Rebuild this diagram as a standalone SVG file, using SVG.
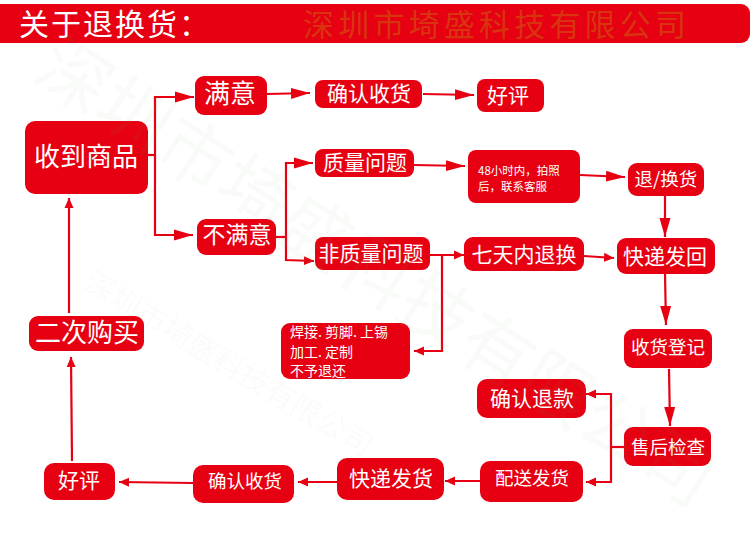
<svg xmlns="http://www.w3.org/2000/svg" width="750" height="550" viewBox="0 0 750 550">
<style>
text{font-family:"Noto Sans CJK SC","Noto Sans",sans-serif;fill:#fff;text-anchor:middle}
.b{fill:#e60012}
.c{fill:none;stroke:#e60012;stroke-width:2.2}
.big{marker-end:url(#ab)}
.sm{marker-end:url(#as)}
.wm{fill:#70b060;fill-opacity:.05;text-anchor:start}
</style>
<defs>
<marker id="ab" markerUnits="userSpaceOnUse" markerWidth="19" markerHeight="13" refX="19" refY="6.5" orient="auto"><path d="M0 1 19 6.500 0 12z" fill="#e60012"/></marker>
<marker id="as" markerUnits="userSpaceOnUse" markerWidth="10" markerHeight="11" refX="10" refY="5.500" orient="auto"><path d="M0 1 10 5.500 0 10z" fill="#e60012"/></marker>
</defs>
<rect width="750" height="550" fill="#fff"/>
<g id="header">
<rect class="b" x="-10" y="4" width="760" height="39" rx="9"/>
<text x="19" y="35" font-size="30" letter-spacing="2" style="text-anchor:start">关于退换货：</text>
<text x="303" y="36" font-size="31" letter-spacing="4.200" style="text-anchor:start;fill:#d9340f">深圳市埼盛科技有限公司</text>
</g>
<g id="connectors">
<path class="c" d="M148 155H155"/>
<path class="c big" d="M155 155V97H194"/>
<path class="c big" d="M155 155V235H193"/>
<path class="c big" d="M267 94 310 93"/>
<path class="c big" d="M423 94 474 95"/>
<path class="c" d="M276 237H286"/>
<path class="c big" d="M286 237V163H313"/>
<path class="c sm" d="M286 237V260L314 261"/>
<path class="c big" d="M414 165 465 166"/>
<path class="c big" d="M580 175 625 177"/>
<path class="c sm" d="M430 255H464"/>
<path class="c sm" d="M584 256 614 258"/>
<path class="c sm" d="M442 255V351H414"/>
<path class="c big" d="M665 196V237"/>
<path class="c big" d="M665 274 666 325"/>
<path class="c big" d="M669 369 670 426"/>
<path class="c" d="M624 447H611"/>
<path class="c sm" d="M611 447V394H586"/>
<path class="c sm" d="M611 447V482H586"/>
<path class="c sm" d="M480 481H445"/>
<path class="c sm" d="M337 482H298"/>
<path class="c sm" d="M193 483 119 482"/>
<path class="c sm" d="M72 461 71 357"/>
<path class="c sm" d="M69 313V198"/>
</g>
<g id="n1"><rect class="b" x="25" y="121" width="123" height="73" rx="10"/><text x="86" y="166" font-size="26">收到商品</text></g>
<g id="n2"><rect class="b" x="195" y="76" width="72" height="39" rx="9"/><text x="230" y="103" font-size="26">满意</text></g>
<g id="n3"><rect class="b" x="315" y="80" width="107" height="28" rx="8"/><text x="369" y="101" font-size="21">确认收货</text></g>
<g id="n4"><rect class="b" x="477" y="79" width="67" height="33" rx="8"/><text x="508" y="103" font-size="21">好评</text></g>
<g id="n5"><rect class="b" x="315" y="149" width="99" height="28" rx="8"/><text x="365" y="170" font-size="21">质量问题</text></g>
<g id="n6"><rect class="b" x="468" y="150" width="112" height="53" rx="8"/><text x="478" y="175" font-size="11.500" style="text-anchor:start">48小时内，拍照</text><text x="478" y="191" font-size="11.500" style="text-anchor:start">后，联系客服</text></g>
<g id="n7"><rect class="b" x="628" y="163" width="76" height="33" rx="9"/><text x="666" y="186" font-size="18.500">退/换货</text></g>
<g id="n8"><rect class="b" x="197" y="219" width="79" height="36" rx="9"/><text x="237" y="243" font-size="23">不满意</text></g>
<g id="n9"><rect class="b" x="315" y="237" width="115" height="33" rx="8"/><text x="371" y="261" font-size="21">非质量问题</text></g>
<g id="n10"><rect class="b" x="464" y="237" width="120" height="34" rx="9"/><text x="524" y="262" font-size="21">七天内退换</text></g>
<g id="n11"><rect class="b" x="617" y="238" width="98" height="36" rx="9"/><text x="665" y="264" font-size="21">快递发回</text></g>
<g id="n12"><rect class="b" x="281" y="323" width="129" height="56" rx="9"/><text x="290" y="337" font-size="14" style="text-anchor:start">焊接. 剪脚. 上锡</text><text x="290" y="357" font-size="14" style="text-anchor:start">加工. 定制</text><text x="290" y="376" font-size="14" style="text-anchor:start">不予退还</text></g>
<g id="n13"><rect class="b" x="624" y="329" width="88" height="39" rx="9"/><text x="668" y="354" font-size="18.500">收货登记</text></g>
<g id="n14"><rect class="b" x="477" y="379" width="109" height="39" rx="10"/><text x="532" y="406" font-size="21">确认退款</text></g>
<g id="n15"><rect class="b" x="624" y="427" width="87" height="39" rx="9"/><text x="668" y="454" font-size="18.500">售后检查</text></g>
<g id="n16"><rect class="b" x="480" y="461" width="103" height="41" rx="10"/><text x="532" y="485" font-size="18.500">配送发货</text></g>
<g id="n17"><rect class="b" x="337" y="458" width="107" height="42" rx="10"/><text x="391" y="486" font-size="21">快递发货</text></g>
<g id="n18"><rect class="b" x="193" y="465" width="101" height="38" rx="10"/><text x="245" y="488" font-size="18.500">确认收货</text></g>
<g id="n19"><rect class="b" x="44" y="463" width="71" height="37" rx="10"/><text x="79" y="488" font-size="21">好评</text></g>
<g id="n20"><rect class="b" x="29" y="316" width="115" height="35" rx="9"/><text x="87" y="342" font-size="26">二次购买</text></g>
<g id="watermark">
<text class="wm" font-size="72" transform="translate(30 78) rotate(33)">深圳市埼盛科技有限公司</text>
<text class="wm" font-size="30" transform="translate(82 288) rotate(31)">深圳市埼盛科技有限公司</text>
</g>
</svg>
